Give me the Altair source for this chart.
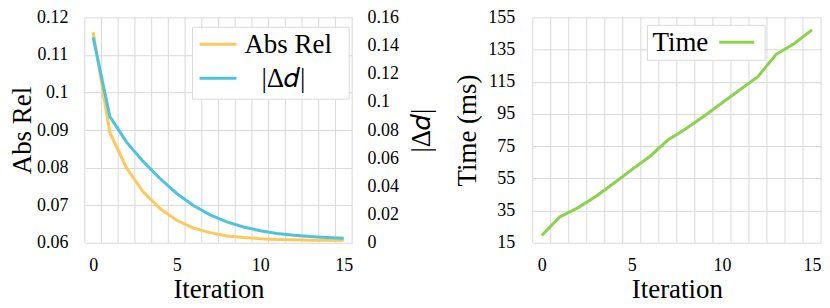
import altair as alt
import pandas as pd

iterations = list(range(16))
abs_rel = [0.1160, 0.0893, 0.0799, 0.0735, 0.0691, 0.0660, 0.0639, 0.0627, 0.0618,
           0.0614, 0.0611, 0.0609, 0.0608, 0.0607, 0.0607, 0.0607]
delta_d = [0.1458, 0.0895, 0.0714, 0.0576, 0.0456, 0.0350, 0.0265, 0.0198, 0.0148,
           0.0112, 0.0085, 0.0066, 0.0053, 0.0044, 0.0038, 0.0033]
time_ms = [19.5, 31.0, 36.7, 43.8, 52.0, 60.4, 68.6, 78.8, 85.8, 93.6, 101.8,
           110.0, 118.2, 131.9, 138.6, 147.2]
series_names = ["Abs Rel", "|Δ𝑑|"]
time_name = "Time"
x_ticks = [0, 5, 10, 15]
abs_ticks = [0.06, 0.07, 0.08, 0.09, 0.10, 0.11, 0.12]
dd_ticks = [0, 0.02, 0.04, 0.06, 0.08, 0.10, 0.12, 0.14, 0.16]
time_ticks = [15, 35, 55, 75, 95, 115, 135, 155]
grid_x = [i - 0.5 for i in range(17)]

colors = ["#FFC85C", "#4FC3DE"]
time_color = "#8CD24E"
grid_color = "#D9D9D9"
FONT = "Liberation Serif"

long_df = pd.DataFrame({
    "iteration": iterations * 2,
    "value": abs_rel + delta_d,
    "series": [series_names[0]] * 16 + [series_names[1]] * 16,
})
time_df = pd.DataFrame({"iteration": iterations, "time": time_ms})
grid_df = pd.DataFrame({"gx": grid_x})
one = pd.DataFrame({"k": [0]})

common = dict(labelFont=FONT, titleFont=FONT, labelColor="black", titleColor="black",
              titleFontWeight="normal", labelFontSize=18, titleFontSize=27,
              ticks=False, domain=False)

xscale = alt.Scale(domain=[-0.5, 15.5], nice=False, zero=False)
xaxis = alt.Axis(values=x_ticks, grid=False, title="Iteration",
                 labelPadding=14, titlePadding=2, **common)
color_scale = alt.Scale(domain=series_names, range=colors)

grid_rules = alt.Chart(grid_df).mark_rule(color=grid_color, strokeWidth=1).encode(
    x=alt.X("gx:Q", scale=xscale, axis=xaxis)
)

abs_layer = alt.Chart(long_df).transform_filter(alt.datum.series == series_names[0]).mark_line(
    strokeWidth=3).encode(
    x=alt.X("iteration:Q", scale=xscale, axis=xaxis),
    y=alt.Y("value:Q", scale=alt.Scale(domain=[0.06, 0.12], nice=False, zero=False),
            axis=alt.Axis(values=abs_ticks, labelExpr="format(datum.value, '.2~f')",
                          grid=True, gridColor=grid_color,
                          title="Abs Rel", labelPadding=17, titlePadding=0, **common)),
    color=alt.Color("series:N", scale=color_scale, legend=None),
)

dd_layer = alt.Chart(long_df).transform_filter(alt.datum.series == series_names[1]).mark_line(
    strokeWidth=3).encode(
    x=alt.X("iteration:Q", scale=xscale, axis=xaxis),
    y=alt.Y("value:Q", scale=alt.Scale(domain=[0, 0.16], nice=False, zero=False),
            axis=alt.Axis(orient="right", values=dd_ticks,
                          labelExpr="format(datum.value, '.2~f')",
                          grid=False, title="|Δ𝑑|",
                          titleAngle=270, titleBaseline="top",
                          labelPadding=15, titlePadding=10, **common)),
    color=alt.Color("series:N", scale=color_scale, legend=None),
)

# left legend (box, two line swatches, two labels)
l_box = alt.Chart(one).mark_rect(fill="white", stroke=grid_color, strokeWidth=1).encode(
    x=alt.value(108), x2=alt.value(265), y=alt.value(10), y2=alt.value(82))
l_line1 = alt.Chart(one).mark_rule(color=colors[0], strokeWidth=3).encode(
    x=alt.value(115), x2=alt.value(152), y=alt.value(27))
l_text1 = alt.Chart(one).mark_text(font=FONT, fontSize=27, align="left", baseline="middle",
                                   color="black").encode(
    x=alt.value(160), y=alt.value(28), text=alt.value(series_names[0]))
l_line2 = alt.Chart(one).mark_rule(color=colors[1], strokeWidth=3).encode(
    x=alt.value(115), x2=alt.value(152), y=alt.value(61))
l_text2 = alt.Chart(one).mark_text(font=FONT, fontSize=27, align="left", baseline="middle",
                                   color="black").encode(
    x=alt.value(177), y=alt.value(62), text=alt.value(series_names[1]))

left = alt.layer(grid_rules, abs_layer, dd_layer, l_box, l_line1, l_text1, l_line2,
                 l_text2).resolve_scale(y="independent").properties(width=268, height=226)

# right panel
time_layer = alt.Chart(time_df).mark_line(strokeWidth=3, color=time_color).encode(
    x=alt.X("iteration:Q", scale=xscale, axis=xaxis),
    y=alt.Y("time:Q", scale=alt.Scale(domain=[15, 155], nice=False, zero=False),
            axis=alt.Axis(values=time_ticks, grid=True, gridColor=grid_color,
                          title="Time (ms)", labelPadding=18, titlePadding=6, **common)),
)

r_box = alt.Chart(one).mark_rect(fill="white", stroke=grid_color, strokeWidth=1).encode(
    x=alt.value(115), x2=alt.value(233), y=alt.value(8), y2=alt.value(43))
r_text = alt.Chart(one).mark_text(font=FONT, fontSize=27, align="left", baseline="middle",
                                  color="black").encode(
    x=alt.value(120), y=alt.value(26), text=alt.value(time_name))
r_line = alt.Chart(one).mark_rule(color=time_color, strokeWidth=3).encode(
    x=alt.value(187), x2=alt.value(222), y=alt.value(25))

right = alt.layer(grid_rules, time_layer, r_box, r_text, r_line).properties(
    width=289, height=226)

chart = alt.hconcat(left, right, spacing=19).properties(
    padding={"left": 0, "top": 0, "right": 0, "bottom": 0}
).configure_view(stroke=None)

chart.save("out.html", embed_options={"renderer": "svg", "actions": False})
